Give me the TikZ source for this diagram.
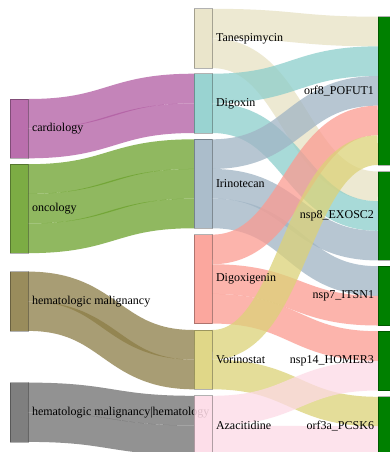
\documentclass[tikz,border=0pt]{standalone}
\usepackage{fontspec}
\setmainfont{Liberation Serif}
\usetikzlibrary{calc}

% node colours
\definecolor{cCard}{HTML}{B15CA2}
\definecolor{cOnc}{HTML}{6BA12B}
\definecolor{cHem}{HTML}{8C7D46}
\definecolor{cHH}{HTML}{6E6E6E}
\definecolor{cTan}{HTML}{E8E2C4}
\definecolor{cDig}{HTML}{8CCECB}
\definecolor{cIri}{HTML}{A0B4C4}
\definecolor{cDgx}{HTML}{FB9B91}
\definecolor{cVor}{HTML}{DCD278}
\definecolor{cAza}{HTML}{FDDAE6}
\definecolor{cTgt}{HTML}{008000}

\tikzset{
  sknode/.style={rectangle, draw=black, draw opacity=0.3, line width=0.8pt,
    inner sep=0pt, outer sep=0pt, minimum width=18pt, anchor=north west,
    fill opacity=0.88},
  sklabel/.style={inner sep=0pt, outer sep=0pt, text=black,
    font=\fontsize{12}{14}\selectfont},
  linkband/.style={draw opacity=0.75, line cap=butt, line width=29.65pt},
}

% band from (node #2, offset #3 below its top) to (node #4, offset #5 below its top)
\newcommand\sklink[5]{%
  \coordinate (la) at ($(#2.north east)+(0,#3)$);
  \coordinate (lb) at ($(#4.north west)+(0,#5)$);
  \coordinate (lm) at ($(la)!0.5!(lb)$);
  \draw[linkband, draw=#1] (la) .. controls (lm |- la) and (lm |- lb) .. (lb);
}

\begin{document}
\begin{tikzpicture}[x=1pt, y=-1pt]
\useasboundingbox (0,0) rectangle (390,452);
\clip (0,0) rectangle (390,452);
\fill[white] (0,0) rectangle (390,452);

% ---- node geometry (drawn later, placed now so links can refer to them)
\path
  (10,99)    node[sknode, minimum height=59.3pt,  draw=none, fill=none] (card) {}
  (10,164.2) node[sknode, minimum height=88.95pt, draw=none, fill=none] (onc)  {}
  (10,271.6) node[sknode, minimum height=59.3pt,  draw=none, fill=none] (hem)  {}
  (10,382.6) node[sknode, minimum height=59.3pt,  draw=none, fill=none] (hh)   {}
  (194,8.8)   node[sknode, minimum height=59.3pt,  draw=none, fill=none] (tan) {}
  (194,73.7)  node[sknode, minimum height=59.3pt,  draw=none, fill=none] (dig) {}
  (194,139.3) node[sknode, minimum height=88.95pt, draw=none, fill=none] (iri) {}
  (194,234.6) node[sknode, minimum height=88.95pt, draw=none, fill=none] (dgx) {}
  (194,330.0) node[sknode, minimum height=59.3pt,  draw=none, fill=none] (vor) {}
  (194,395.8) node[sknode, minimum height=59.3pt,  draw=none, fill=none] (aza) {}
  (378,16.7)  node[sknode, minimum height=148.25pt, draw=none, fill=none] (orf8)  {}
  (378,171.5) node[sknode, minimum height=88.95pt,  draw=none, fill=none] (nsp8)  {}
  (378,266.2) node[sknode, minimum height=59.3pt,   draw=none, fill=none] (nsp7)  {}
  (378,331.2) node[sknode, minimum height=59.3pt,   draw=none, fill=none] (nsp14) {}
  (378,396.8) node[sknode, minimum height=59.3pt,   draw=none, fill=none] (orf3a) {};

% ---- links: indication -> drug
\sklink{cCard}{card}{14.83}{dig}{14.83}
\sklink{cCard}{card}{44.48}{dig}{44.48}
\sklink{cOnc}{onc}{14.83}{iri}{14.83}
\sklink{cOnc}{onc}{44.48}{iri}{44.48}
\sklink{cOnc}{onc}{74.13}{iri}{74.13}
\sklink{cHem}{hem}{14.83}{vor}{14.83}
\sklink{cHem}{hem}{44.48}{vor}{44.48}
\sklink{cHH}{hh}{14.83}{aza}{14.83}
\sklink{cHH}{hh}{44.48}{aza}{44.48}

% ---- links: drug -> target
\sklink{cTan}{tan}{14.83}{orf8}{14.83}
\sklink{cTan}{tan}{44.48}{nsp8}{14.83}
\sklink{cDig}{dig}{14.83}{orf8}{44.48}
\sklink{cDig}{dig}{44.48}{nsp8}{44.48}
\sklink{cIri}{iri}{14.83}{orf8}{74.13}
\sklink{cIri}{iri}{44.48}{nsp8}{74.13}
\sklink{cIri}{iri}{74.13}{nsp7}{14.83}
\sklink{cDgx}{dgx}{14.83}{orf8}{103.78}
\sklink{cDgx}{dgx}{44.48}{nsp7}{44.48}
\sklink{cDgx}{dgx}{74.13}{nsp14}{14.83}
\sklink{cVor}{vor}{14.83}{orf8}{133.43}
\sklink{cVor}{vor}{44.48}{orf3a}{14.83}
\sklink{cAza}{aza}{14.83}{nsp14}{44.48}
\sklink{cAza}{aza}{44.48}{orf3a}{44.48}

% ---- indication column
\node[sknode, minimum height=59.3pt,  fill=cCard] (cardbox) at (card.north west) {};
\node[sklabel, anchor=west] (cardlbl) at ($(card.east)+(4,0)$) {cardiology};
\node[sknode, minimum height=88.95pt, fill=cOnc] (oncbox) at (onc.north west) {};
\node[sklabel, anchor=west] (onclbl) at ($(onc.east)+(4,0)$) {oncology};
\node[sknode, minimum height=59.3pt,  fill=cHem] (hembox) at (hem.north west) {};
\node[sklabel, anchor=west] (hemlbl) at ($(hem.east)+(4,0)$) {hematologic malignancy};
\node[sknode, minimum height=59.3pt,  fill=cHH] (hhbox) at (hh.north west) {};
\node[sklabel, anchor=west] (hhlbl) at ($(hh.east)+(4,0)$) {hematologic malignancy|hematology};

% ---- drug column
\node[sknode, minimum height=59.3pt,  fill=cTan] (tanbox) at (tan.north west) {};
\node[sklabel, anchor=west] (tanlbl) at ($(tan.east)+(4,0)$) {Tanespimycin};
\node[sknode, minimum height=59.3pt,  fill=cDig] (digbox) at (dig.north west) {};
\node[sklabel, anchor=west] (diglbl) at ($(dig.east)+(4,0)$) {Digoxin};
\node[sknode, minimum height=88.95pt, fill=cIri] (iribox) at (iri.north west) {};
\node[sklabel, anchor=west] (irilbl) at ($(iri.east)+(4,0)$) {Irinotecan};
\node[sknode, minimum height=88.95pt, fill=cDgx] (dgxbox) at (dgx.north west) {};
\node[sklabel, anchor=west] (dgxlbl) at ($(dgx.east)+(4,0)$) {Digoxigenin};
\node[sknode, minimum height=59.3pt,  fill=cVor] (vorbox) at (vor.north west) {};
\node[sklabel, anchor=west] (vorlbl) at ($(vor.east)+(4,0)$) {Vorinostat};
\node[sknode, minimum height=59.3pt,  fill=cAza] (azabox) at (aza.north west) {};
\node[sklabel, anchor=west] (azalbl) at ($(aza.east)+(4,0)$) {Azacitidine};

% ---- target column
\node[sknode, minimum height=148.25pt, fill=cTgt, fill opacity=1] (orf8box) at (orf8.north west) {};
\node[sklabel, anchor=east] (orf8lbl) at ($(orf8.west)+(-4,0)$) {orf8\_POFUT1};
\node[sknode, minimum height=88.95pt, fill=cTgt, fill opacity=1] (nsp8box) at (nsp8.north west) {};
\node[sklabel, anchor=east] (nsp8lbl) at ($(nsp8.west)+(-4,0)$) {nsp8\_EXOSC2};
\node[sknode, minimum height=59.3pt, fill=cTgt, fill opacity=1] (nsp7box) at (nsp7.north west) {};
\node[sklabel, anchor=east] (nsp7lbl) at ($(nsp7.west)+(-4,0)$) {nsp7\_ITSN1};
\node[sknode, minimum height=59.3pt, fill=cTgt, fill opacity=1] (nsp14box) at (nsp14.north west) {};
\node[sklabel, anchor=east] (nsp14lbl) at ($(nsp14.west)+(-4,0)$) {nsp14\_HOMER3};
\node[sknode, minimum height=59.3pt, fill=cTgt, fill opacity=1] (orf3abox) at (orf3a.north west) {};
\node[sklabel, anchor=east] (orf3albl) at ($(orf3a.west)+(-4,0)$) {orf3a\_PCSK6};
\end{tikzpicture}
\end{document}
